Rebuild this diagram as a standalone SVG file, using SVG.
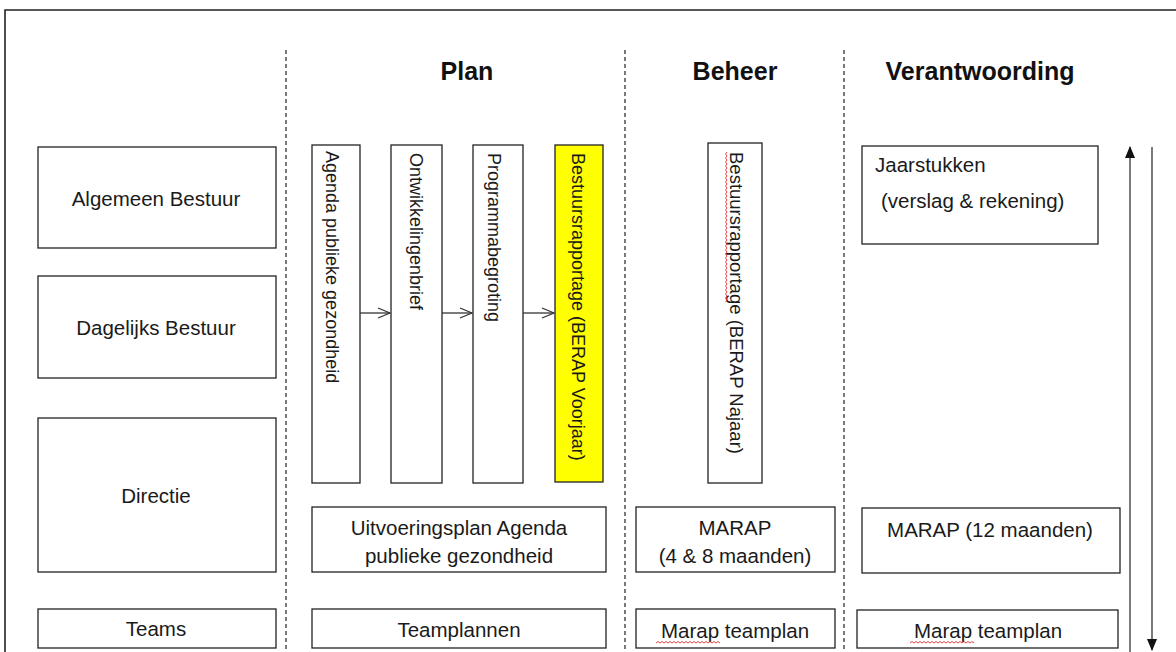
<svg xmlns="http://www.w3.org/2000/svg" width="1176" height="652" viewBox="0 0 1176 652">
<defs>
<style>
.box{fill:#fff;stroke:#222;stroke-width:1.3}
.t{font-family:"Liberation Sans",Arial,sans-serif;font-size:20.5px;fill:#1a1a1a}
.tc{text-anchor:middle}
.v{font-family:"Liberation Sans",Arial,sans-serif;font-size:18px;fill:#1a1a1a}
.h{font-family:"Liberation Sans",Arial,sans-serif;font-size:25px;font-weight:bold;fill:#111;text-anchor:middle}
.dash{stroke:#222;stroke-width:1.2;stroke-dasharray:4 3;fill:none}
.conn{stroke:#333;stroke-width:1.3;fill:none}
.sq{stroke:#e03030;stroke-width:0.9;fill:none}
</style>
<marker id="open" viewBox="0 0 14 12" refX="13" refY="6" markerWidth="14" markerHeight="12" markerUnits="userSpaceOnUse" orient="auto">
<path d="M1,1 L13,6 L1,11" fill="none" stroke="#333" stroke-width="1.3"/>
</marker>
<marker id="solid" viewBox="0 0 12 12" refX="11" refY="6" markerWidth="12" markerHeight="12" markerUnits="userSpaceOnUse" orient="auto">
<path d="M0,1 L12,6 L0,11 Z" fill="#111"/>
</marker>
</defs>
<rect x="0" y="0" width="1176" height="652" fill="#fff"/>
<g id="frame">
<path d="M5,652 L5,10 L1176,10" fill="none" stroke="#222" stroke-width="1.6"/>
</g>
<g id="dividers">
<line class="dash" x1="286" y1="50" x2="286" y2="652"/>
<line class="dash" x1="625" y1="50" x2="625" y2="652"/>
<line class="dash" x1="844" y1="50" x2="844" y2="652"/>
</g>
<g id="headers">
<text class="h" x="467" y="80">Plan</text>
<text class="h" x="735" y="80">Beheer</text>
<text class="h" x="980" y="80">Verantwoording</text>
</g>
<g id="algemeen-bestuur">
<rect class="box" x="38" y="147" width="238" height="101"/>
<text class="t tc" x="156" y="206">Algemeen Bestuur</text>
</g>
<g id="dagelijks-bestuur">
<rect class="box" x="38" y="276" width="238" height="102"/>
<text class="t tc" x="156" y="335">Dagelijks Bestuur</text>
</g>
<g id="directie">
<rect class="box" x="38" y="418" width="238" height="154"/>
<text class="t tc" x="156" y="503">Directie</text>
</g>
<g id="teams">
<rect class="box" x="38" y="609" width="238" height="39"/>
<text class="t tc" x="156" y="636">Teams</text>
</g>
<g id="agenda">
<rect class="box" x="312" y="145" width="48" height="338"/>
<text class="v" transform="translate(326,151) rotate(90)">Agenda publieke  gezondheid</text>
</g>
<g id="ontwikkelingenbrief">
<rect class="box" x="391" y="145" width="51" height="338"/>
<text class="v" transform="translate(410,153) rotate(90)">Ontwikkelingenbrief</text>
</g>
<g id="programmabegroting">
<rect class="box" x="473" y="145" width="50" height="338"/>
<text class="v" transform="translate(488,153) rotate(90)">Programmabegroting</text>
</g>
<g id="berap-voorjaar">
<rect class="box" x="555" y="145" width="48" height="337" style="fill:#ffff00"/>
<text class="v" transform="translate(572,153) rotate(90)">Bestuursrapportage  (BERAP Voorjaar)</text>
</g>
<g id="uitvoeringsplan">
<rect class="box" x="312" y="507" width="294" height="65"/>
<text class="t tc" x="459" y="535">Uitvoeringsplan Agenda</text>
<text class="t tc" x="459" y="563">publieke gezondheid</text>
</g>
<g id="teamplannen">
<rect class="box" x="312" y="609" width="294" height="39"/>
<text class="t tc" x="459" y="637">Teamplannen</text>
</g>
<g id="berap-najaar">
<rect class="box" x="708" y="143" width="54" height="340"/>
<text class="v" transform="translate(730,152) rotate(90)" style="font-size:18.5px">Bestuursrapportage  (BERAP Najaar)</text>
<path class="sq" d="M727,152 l-1.5,2 l1.5,2 l-1.5,2 l1.5,2 l-1.5,2 l1.5,2 l-1.5,2 l1.5,2 l-1.5,2 l1.5,2 l-1.5,2 l1.5,2 l-1.5,2 l1.5,2 l-1.5,2 l1.5,2 l-1.5,2 l1.5,2 l-1.5,2 l1.5,2 l-1.5,2 l1.5,2 l-1.5,2 l1.5,2 l-1.5,2 l1.5,2 l-1.5,2 l1.5,2 l-1.5,2 l1.5,2 l-1.5,2 l1.5,2 l-1.5,2 l1.5,2 l-1.5,2 l1.5,2 l-1.5,2 l1.5,2 l-1.5,2 l1.5,2 l-1.5,2 l1.5,2 l-1.5,2 l1.5,2 l-1.5,2 l1.5,2 l-1.5,2 l1.5,2 l-1.5,2 l1.5,2 l-1.5,2 l1.5,2 l-1.5,2 l1.5,2 l-1.5,2 l1.5,2 l-1.5,2 l1.5,2 l-1.5,2 l1.5,2 l-1.5,2 l1.5,2 l-1.5,2 l1.5,2 l-1.5,2 l1.5,2 l-1.5,2 l1.5,2 l-1.5,2 l1.5,2 l-1.5,2 l1.5,2 l-1.5,2 l1.5,2 l-1.5,2"/>
</g>
<g id="marap-4-8">
<rect class="box" x="636" y="507" width="199" height="65"/>
<text class="t tc" x="735" y="535">MARAP</text>
<text class="t tc" x="735" y="563">(4 &amp; 8 maanden)</text>
</g>
<g id="marap-teamplan-beheer">
<rect class="box" x="636" y="609" width="199" height="39"/>
<text class="t tc" x="735" y="638">Marap teamplan</text>
<path class="sq" d="M656,643 l2,-1.5 l2,1.5 l2,-1.5 l2,1.5 l2,-1.5 l2,1.5 l2,-1.5 l2,1.5 l2,-1.5 l2,1.5 l2,-1.5 l2,1.5 l2,-1.5 l2,1.5 l2,-1.5 l2,1.5 l2,-1.5 l2,1.5 l2,-1.5 l2,1.5 l2,-1.5 l2,1.5 l2,-1.5 l2,1.5 l2,-1.5 l2,1.5 l2,-1.5 l2,1.5 l2,-1.5 l2,1.5 l2,-1.5 l2,1.5"/>
</g>
<g id="jaarstukken">
<rect class="box" x="862" y="146" width="236" height="98"/>
<text class="t" x="875" y="172">Jaarstukken</text>
<text class="t" x="881" y="208">(verslag &amp; rekening)</text>
</g>
<g id="marap-12">
<rect class="box" x="862" y="508" width="258" height="65"/>
<text class="t tc" x="990" y="537">MARAP (12 maanden)</text>
</g>
<g id="marap-teamplan-verantwoording">
<rect class="box" x="857" y="610" width="261" height="38"/>
<text class="t tc" x="988" y="638">Marap teamplan</text>
<path class="sq" d="M910,643 l2,-1.5 l2,1.5 l2,-1.5 l2,1.5 l2,-1.5 l2,1.5 l2,-1.5 l2,1.5 l2,-1.5 l2,1.5 l2,-1.5 l2,1.5 l2,-1.5 l2,1.5 l2,-1.5 l2,1.5 l2,-1.5 l2,1.5 l2,-1.5 l2,1.5 l2,-1.5 l2,1.5 l2,-1.5 l2,1.5 l2,-1.5 l2,1.5 l2,-1.5 l2,1.5 l2,-1.5 l2,1.5 l2,-1.5 l2,1.5"/>
</g>
<g id="connectors">
<line class="conn" x1="360" y1="313" x2="390" y2="313" marker-end="url(#open)"/>
<line class="conn" x1="442" y1="313" x2="472" y2="313" marker-end="url(#open)"/>
<line class="conn" x1="523" y1="313" x2="554" y2="313" marker-end="url(#open)"/>
<line class="conn" x1="1130" y1="652" x2="1130" y2="147" marker-end="url(#solid)" stroke="#111"/>
<line class="conn" x1="1152" y1="147" x2="1152" y2="650" marker-end="url(#solid)" stroke="#111"/>
</g>
</svg>
